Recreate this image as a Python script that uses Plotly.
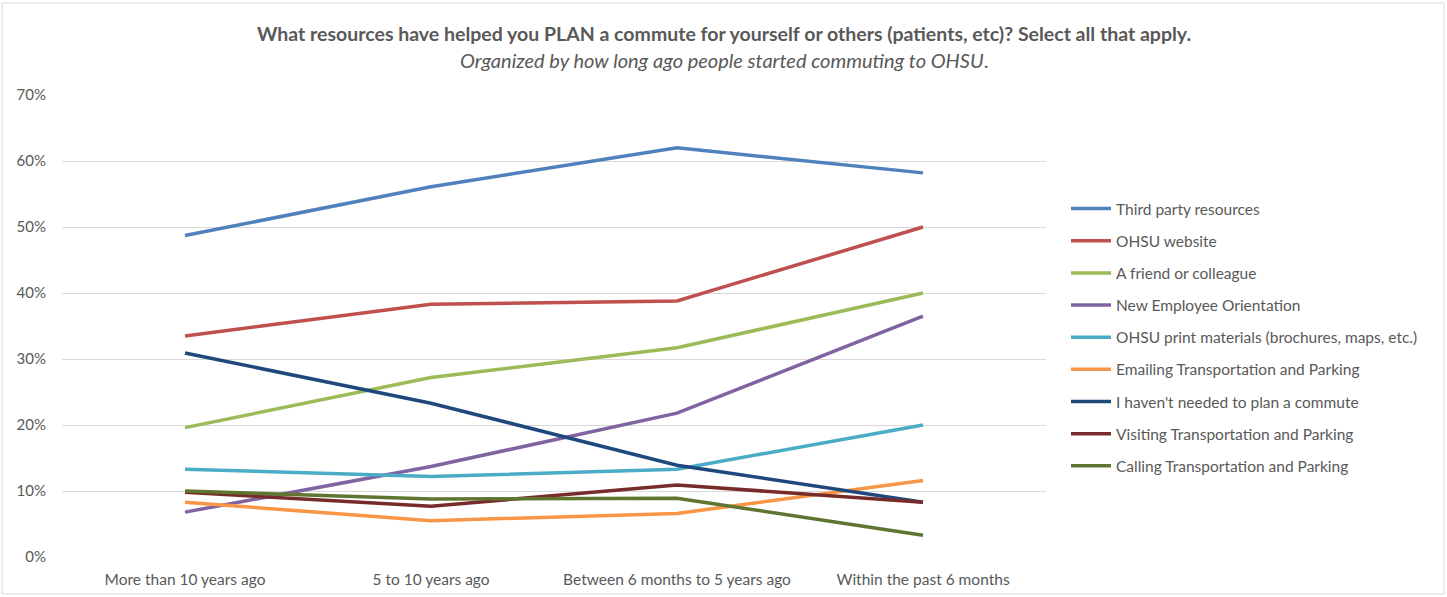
import plotly.graph_objects as go

categories = ["More than 10 years ago", "5 to 10 years ago",
              "Between 6 months to 5 years ago", "Within the past 6 months"]

third_party = [48.7, 56.1, 62.0, 58.2]
ohsu_website = [33.5, 38.3, 38.8, 50.0]
friend = [19.6, 27.2, 31.7, 40.0]
new_employee = [6.8, 13.7, 21.8, 36.5]
print_materials = [13.3, 12.2, 13.3, 20.0]
emailing = [8.3, 5.5, 6.6, 11.6]
havent_needed = [30.9, 23.3, 13.9, 8.3]
visiting = [9.8, 7.7, 10.9, 8.3]
calling = [10.0, 8.8, 8.9, 3.3]

series_names = ["Third party resources", "OHSU website", "A friend or colleague",
                "New Employee Orientation", "OHSU print materials (brochures, maps, etc.)",
                "Emailing Transportation and Parking", "I haven't needed to plan a commute",
                "Visiting Transportation and Parking", "Calling Transportation and Parking"]
series_values = [third_party, ohsu_website, friend, new_employee, print_materials,
                 emailing, havent_needed, visiting, calling]
colors = ["#4F81BD", "#C0504D", "#9BBB59", "#8064A2", "#4BACC6",
          "#F79646", "#1F497D", "#772C2A", "#5F7530"]

y_ticks = [0, 10, 20, 30, 40, 50, 60, 70]
y_tick_labels = [f"{v}%" for v in y_ticks]

FONT = "Lato, Noto Sans, sans-serif"
TXT = "#595959"

fig = go.Figure()
for name, vals, col in zip(series_names, series_values, colors):
    fig.add_trace(go.Scatter(
        x=categories, y=vals, mode="lines", name=name,
        line=dict(color=col, width=3.5), legendgroup=name,
    ))

W, H = 1447, 597
L, R, T, B = 62, 401, 95, 40
pw = W - L - R
ph = H - T - B

fig.update_layout(
    width=W, height=H,
    margin=dict(l=L, r=R, t=T, b=B, autoexpand=False),
    paper_bgcolor="white", plot_bgcolor="white",
    font=dict(family=FONT, color=TXT, size=15),
    showlegend=True,
    legend=dict(
        x=(1066 - L) / pw, y=1 - (192 - T) / ph,
        xanchor="left", yanchor="top",
        font=dict(size=15.5, color=TXT, family=FONT),
        tracegroupgap=9, itemwidth=40,
        bgcolor="rgba(0,0,0,0)",
    ),
    xaxis=dict(
        type="category", showgrid=False, zeroline=False, showline=False,
        ticks="", tickfont=dict(size=15.5, color=TXT), automargin=False,
        range=[-0.5, 3.5], ticklabelstandoff=11,
    ),
    yaxis=dict(
        range=[0, 70], tickvals=y_ticks, ticktext=y_tick_labels,
        showgrid=True, gridcolor="#D9D9D9", gridwidth=1, automargin=False,
        zeroline=False, showline=False, ticks="",
        tickfont=dict(size=15, color=TXT), ticklabelstandoff=15,
    ),
)

xshift = W / 2 - (L + pw / 2)
fig.add_annotation(
    text="<b>What resources have helped you PLAN a commute for yourself or others (patients, etc)? Select all that apply.</b>",
    x=0.5, y=(H - 33 - B) / ph, xref="paper", yref="paper",
    xanchor="center", yanchor="middle", showarrow=False, xshift=xshift,
    font=dict(size=19.5, color=TXT, family=FONT))
fig.add_annotation(
    text="<i>Organized by how long ago people started commuting to OHSU</i>.",
    x=0.5, y=(H - 60 - B) / ph, xref="paper", yref="paper",
    xanchor="center", yanchor="middle", showarrow=False, xshift=xshift,
    font=dict(size=20, color=TXT, family=FONT))

# chart border
fig.add_shape(type="rect", xref="paper", yref="paper",
              x0=(2 - L) / pw, x1=(W - 3 - L) / pw,
              y0=-(B - 3) / ph, y1=(H - 3 - B) / ph,
              line=dict(color="#D9D9D9", width=1), fillcolor="rgba(0,0,0,0)", layer="below")

fig.write_html("out.html", config={"displayModeBar": False},
               post_script="document.body.style.margin='0';")
